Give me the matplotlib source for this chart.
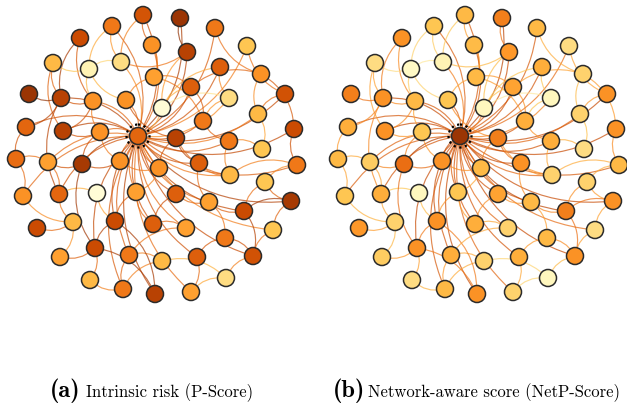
import matplotlib
matplotlib.use("Agg")
import matplotlib.pyplot as plt
from matplotlib.patches import FancyArrowPatch, Circle
import numpy as np

# node layout (shared by both panels)
node_x = [143, 112, 180, 80, 152, 215, 247, 53, 89, 121, 187, 154, 220, 261, 29, 61, 93, 126,
          162, 191, 229, 285, 26, 63, 100, 138, 176, 203, 229, 258, 294, 16, 48, 82, 120, 159,
          199, 230, 262, 297, 265, 23, 59, 97, 136, 176, 209, 244, 291, 37, 73, 115, 153, 186,
          225, 273, 60, 95, 129, 162, 197, 253, 90, 123, 155, 191, 226]
node_y = [16, 27, 19, 39, 46, 29, 47, 64, 70, 63, 53, 78, 68, 75, 95, 99, 102, 101, 109, 88,
          99, 95, 128, 132, 133, 137, 139, 122, 142, 115, 130, 160, 163, 165, 162, 169, 164,
          176, 150, 166, 183, 197, 195, 194, 193, 195, 203, 212, 202, 229, 223, 222, 225, 229,
          239, 231, 258, 249, 256, 262, 258, 257, 281, 290, 295, 293, 279]

hub = 25

# per-node scores (0 = low risk, 1 = high risk)
p_score = [0.72, 0.60, 0.87, 0.75, 0.52, 0.60, 0.37, 0.41, 0.15, 0.28, 0.80, 0.48, 0.68, 0.52,
           0.87, 0.80, 0.52, 0.52, 0.05, 0.68, 0.28, 0.73, 0.66, 0.80, 0.52, 0.66, 0.80, 0.60,
           0.60, 0.41, 0.75, 0.64, 0.48, 0.84, 0.52, 0.52, 0.68, 0.41, 0.37, 0.60, 0.37, 0.52,
           0.66, 0.05, 0.48, 0.68, 0.48, 0.75, 0.84, 0.75, 0.41, 0.75, 0.68, 0.48, 0.60, 0.37,
           0.48, 0.75, 0.60, 0.41, 0.68, 0.73, 0.41, 0.60, 0.80, 0.48, 0.28]
netp_score = [0.41, 0.37, 0.58, 0.52, 0.40, 0.41, 0.28, 0.28, 0.10, 0.15, 0.50, 0.41, 0.44, 0.32,
              0.58, 0.52, 0.41, 0.37, 0.12, 0.47, 0.12, 0.52, 0.44, 0.52, 0.37, 0.87, 0.58, 0.44,
              0.44, 0.32, 0.52, 0.41, 0.34, 0.63, 0.52, 0.41, 0.52, 0.32, 0.28, 0.41, 0.32, 0.37,
              0.44, 0.12, 0.37, 0.47, 0.41, 0.58, 0.52, 0.50, 0.32, 0.52, 0.44, 0.32, 0.41, 0.28,
              0.34, 0.52, 0.44, 0.32, 0.44, 0.52, 0.28, 0.41, 0.52, 0.32, 0.12]

# edges (1-based node ids)
hub_links = [1, 3, 5, 6, 7, 10, 11, 13, 16, 17, 18, 19, 20, 21, 22, 24, 25, 28, 29, 30, 31, 33,
             34, 35, 36, 37, 38, 40, 43, 45, 46, 47, 48, 49, 52, 53, 54, 58, 59, 61, 62, 64, 65,
             42, 23, 56, 66, 2]
other_links = [(1, 10), (2, 10), (4, 16), (4, 17), (3, 11), (10, 9), (10, 11), (8, 16), (8, 9),
               (8, 24), (15, 16), (23, 16), (23, 32), (6, 14), (7, 22), (13, 21), (13, 19),
               (14, 20), (22, 30), (31, 14), (31, 40), (39, 30), (39, 29), (40, 41), (40, 38),
               (41, 48), (41, 49), (49, 48), (49, 56), (56, 62), (62, 48), (62, 67), (62, 55),
               (67, 66), (67, 60), (66, 61), (55, 47), (55, 61), (63, 58), (63, 64), (57, 58),
               (57, 51), (50, 51), (42, 32), (42, 51), (44, 43), (44, 52), (33, 32), (33, 34),
               (34, 35), (34, 58), (60, 64), (60, 59), (65, 52), (65, 58), (27, 36), (27, 37),
               (27, 38), (28, 20), (28, 29), (28, 12), (12, 5), (12, 18), (9, 17), (9, 18),
               (24, 25), (24, 17), (25, 35), (25, 34), (45, 52), (45, 53), (45, 36), (46, 47),
               (46, 53), (54, 53), (54, 59), (37, 38), (37, 47), (21, 28), (21, 19), (20, 19),
               (20, 12), (16, 17), (16, 43), (43, 33), (43, 51), (1, 5), (11, 19), (14, 30),
               (29, 38), (47, 48), (59, 64), (35, 36), (52, 58), (17, 25), (18, 27), (2, 9)]

edges = [(hub, k - 1) for k in hub_links] + [(a - 1, b - 1) for a, b in other_links]

cmap = plt.get_cmap("YlOrBr")

fig = plt.figure(figsize=(6.27, 4.10), dpi=100)
W, H = 627, 410


def draw_network(ax, scores):
    for i, j in edges:
        c = cmap(0.5 * (scores[i] + scores[j]) * 0.95 + 0.1)
        p = FancyArrowPatch((node_x[i], node_y[i]), (node_x[j], node_y[j]),
                            connectionstyle="arc3,rad=0.28", arrowstyle="-",
                            color=c, lw=0.85, alpha=0.7, zorder=1)
        ax.add_patch(p)
    ax.scatter(node_x, node_y, s=150, c=[cmap(v) for v in scores],
               edgecolors="#2b2b2b", linewidths=1.1, zorder=3)
    ax.add_patch(Circle((node_x[hub], node_y[hub]), 11.5, fill=False, ec="black",
                        ls=(0, (1, 1.6)), lw=1.6, zorder=4))


panels = [(0, 313, p_score), (322, 305, netp_score)]
for x0, w, scores in panels:
    ax = fig.add_axes([x0 / W, (H - 320) / H, w / W, 320 / H])
    ax.set_xlim(0, w)
    ax.set_ylim(320, 0)
    ax.set_aspect("equal")
    ax.axis("off")
    draw_network(ax, scores)

captions = [(81, 86, "(a)", "Intrinsic risk (P-Score)"),
            (365, 368, "(b)", "Network-aware score (NetP-Score)")]
for xb, xt, tag, text in captions:
    fig.text(xb / W, 1 - 391 / H, tag, family="cmb10", fontsize=17.5,
             ha="right", va="center")
    fig.text(xt / W, 1 - 393 / H, text, family="cmr10", fontsize=12,
             ha="left", va="center")

fig.savefig("out.png", dpi=100)
